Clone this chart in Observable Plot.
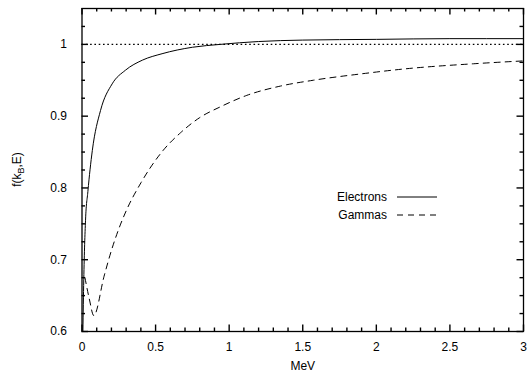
<!DOCTYPE html>
<html>
<head>
<meta charset="utf-8">
<script src="https://cdn.jsdelivr.net/npm/d3@7"></script>
<script src="https://cdn.jsdelivr.net/npm/@observablehq/plot@0.6"></script>
<style>
  html, body { margin: 0; padding: 0; background: #fff; }
  svg { font-family: "Liberation Sans", Arial, Helvetica, sans-serif; }
</style>
</head>
<body>
<div id="chart"></div>
<script>
// Energy (MeV) and f(kB,E) values
const electronE = [0.006, 0.012, 0.024, 0.04, 0.07, 0.126, 0.205, 0.295, 0.41, 0.544, 0.75, 0.94, 1.2, 1.5, 2.0, 2.5, 3.0];
const electronF = [0.600, 0.672, 0.755, 0.795, 0.852, 0.908, 0.945, 0.964, 0.978, 0.987, 0.996, 1.000, 1.004, 1.006, 1.007, 1.008, 1.008];

const gammaE = [0.02, 0.05, 0.08, 0.15, 0.2, 0.25, 0.3, 0.4, 0.55, 0.67, 0.8, 0.94, 1.12, 1.35, 1.57, 1.9, 2.2, 2.66, 3.0];
const gammaF = [0.675, 0.645, 0.622, 0.677, 0.713, 0.743, 0.768, 0.807, 0.852, 0.877, 0.898, 0.913, 0.929, 0.942, 0.950, 0.959, 0.966, 0.973, 0.977];

const referenceLevel = [1];

const xTicks = [0, 0.5, 1, 1.5, 2, 2.5, 3];
const xTickLabels = ["0", "0.5", "1", "1.5", "2", "2.5", "3"];
const yTicks = [0.6, 0.7, 0.8, 0.9, 1.0];
const yTickLabels = ["0.6", "0.7", "0.8", "0.9", "1"];
const xMinorTicks = [0.1, 0.2, 0.3, 0.4, 0.6, 0.7, 0.8, 0.9, 1.1, 1.2, 1.3, 1.4, 1.6, 1.7, 1.8, 1.9, 2.1, 2.2, 2.3, 2.4, 2.6, 2.7, 2.8, 2.9];
const yMinorTicks = [0.625, 0.65, 0.675, 0.725, 0.75, 0.775, 0.825, 0.85, 0.875, 0.925, 0.95, 0.975, 1.025];

const seriesNames = ["Electrons", "Gammas"];
const xLabel = "MeV";

const xDomain = [0, 3];
const yDomain = [0.6, 1.05];

const electrons = electronE.map((e, i) => ({E: e, f: electronF[i]}));
const gammas = gammaE.map((e, i) => ({E: e, f: gammaF[i]}));

const fmtX = d => {
  const i = xTicks.findIndex(t => Math.abs(t - d) < 1e-9);
  return i >= 0 ? xTickLabels[i] : "";
};
const fmtY = d => {
  const i = yTicks.findIndex(t => Math.abs(t - d) < 1e-9);
  return i >= 0 ? yTickLabels[i] : "";
};

const W = 530, H = 377;
const mL = 81.5, mR = 7, mT = 8, mB = 46;
const innerW = W - mL - mR, innerH = H - mT - mB;

// inward tick lengths converted from pixels to data units
const yPerPx = (yDomain[1] - yDomain[0]) / innerH;
const xPerPx = (xDomain[1] - xDomain[0]) / innerW;
const tickStyle = {stroke: "black", strokeWidth: 1.4};
const inX = (ticks, len) => [
  Plot.ruleX(ticks, {...tickStyle, x: d => d, y1: yDomain[0], y2: yDomain[0] + len * yPerPx}),
  Plot.ruleX(ticks, {...tickStyle, x: d => d, y1: yDomain[1], y2: yDomain[1] - len * yPerPx})
];
const inY = (ticks, len) => [
  Plot.ruleY(ticks, {...tickStyle, y: d => d, x1: xDomain[0], x2: xDomain[0] + len * xPerPx}),
  Plot.ruleY(ticks, {...tickStyle, y: d => d, x1: xDomain[1], x2: xDomain[1] - len * xPerPx})
];

const chart = Plot.plot({
  width: W,
  height: H,
  marginLeft: mL,
  marginRight: mR,
  marginTop: mT,
  marginBottom: mB,
  style: {fontSize: "12px", fontFamily: "'Liberation Sans', Arial, sans-serif", background: "#fff"},
  x: {domain: xDomain},
  y: {domain: yDomain},
  marks: [
    ...inX(xMinorTicks, 3.5),
    ...inY(yMinorTicks, 3.5),
    ...inX(xTicks, 6.5),
    ...inY(yTicks, 6.5),
    // tick labels
    Plot.axisX(xTicks, {anchor: "bottom", tickSize: 0, tickPadding: 11, tickFormat: fmtX, label: xLabel, labelAnchor: "center", labelArrow: "none", labelOffset: 38, fill: "#000"}),
    Plot.axisY(yTicks, {anchor: "left", tickSize: 0, tickPadding: 15, tickFormat: fmtY, label: null, fill: "#000"}),
    Plot.ruleY(referenceLevel, {stroke: "#000", strokeWidth: 1.3, strokeDasharray: "1.6,2.7"}),
    Plot.line(electrons, {x: "E", y: "f", stroke: "#000", strokeWidth: 1, curve: "monotone-x"}),
    Plot.line(gammas, {x: "E", y: "f", stroke: "#000", strokeWidth: 1, strokeDasharray: "6,5", curve: "monotone-x"}),
    Plot.frame({stroke: "#000", strokeWidth: 1.3})
  ]
});

const svg = d3.select(chart);
// y-axis label with subscript
const ySc = chart.scale("y");
const yMid = (ySc.range[0] + ySc.range[1]) / 2;
const yl = svg.append("text")
  .attr("transform", `translate(21,${yMid}) rotate(-90)`)
  .attr("text-anchor", "middle")
  .attr("font-size", 12)
  .attr("fill", "#000");
yl.append("tspan").text("f(k");
yl.append("tspan").attr("font-size", 9).attr("dy", 3).text("B");
yl.append("tspan").attr("dy", -3).text(",E)");

// legend
const legend = svg.append("g").attr("font-size", 12).attr("fill", "#000");
const legendRows = [
  {name: seriesNames[0], dash: null, y: 197},
  {name: seriesNames[1], dash: "6,5", y: 215}
];
legendRows.forEach(r => {
  legend.append("text").attr("x", 387).attr("y", r.y).attr("dy", "0.36em").attr("text-anchor", "end").text(r.name);
  legend.append("line").attr("x1", 397).attr("x2", 437).attr("y1", r.y).attr("y2", r.y)
    .attr("stroke", "#000").attr("stroke-width", 1).attr("stroke-dasharray", r.dash);
});

document.getElementById("chart").appendChild(chart);
</script>
</body>
</html>
